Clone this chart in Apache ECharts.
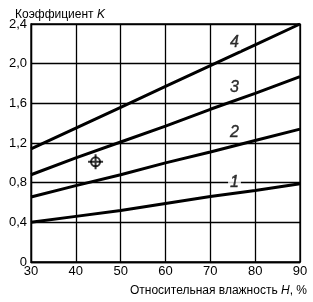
<!DOCTYPE html>
<html><head><meta charset="utf-8">
<script src="https://cdn.jsdelivr.net/npm/echarts@6/dist/echarts.min.js"></script>
<style>html,body{margin:0;padding:0;background:#fff}#c{width:313px;height:302px}</style>
</head><body><div id="c"></div>
<script>
var humidity = [30, 40, 50, 60, 70, 80, 90];
var curve1 = [0.40, 0.46, 0.52, 0.59, 0.66, 0.72, 0.79];
var curve2 = [0.655, 0.77, 0.88, 1.00, 1.11, 1.225, 1.34];
var curve3 = [0.88, 1.05, 1.21, 1.37, 1.54, 1.70, 1.87];
var curve4 = [1.14, 1.35, 1.56, 1.77, 1.98, 2.19, 2.40];
var curveNames = ['1', '2', '3', '4'];
var curveLabelX = [75.5, 75.5, 75.5, 75.5];
var curveLabelY = [0.80, 1.30, 1.75, 2.21];
var pointH = [44.4];
var pointK = [1.01];
var xTicks = [30, 40, 50, 60, 70, 80, 90];
var yTicks = [0, 0.4, 0.8, 1.2, 1.6, 2.0, 2.4];

var font = '"Liberation Sans", Arial, sans-serif';
function pairs(ys){ return humidity.map(function(h,i){return [h, ys[i]];}); }
var curves = [curve1, curve2, curve3, curve4];
var series = curves.map(function(c){
  return {type:'line', data:pairs(c), showSymbol:false, smooth:false,
    lineStyle:{color:'#000', width:3}, z:3, silent:true};
});
series.push({type:'scatter', z:5,
  data: curveNames.map(function(n,i){return {value:[curveLabelX[i], curveLabelY[i]], name:n};}),
  symbolSize:1, itemStyle:{color:'rgba(0,0,0,0)'},
  label:{show:true, position:[0,0], align:'center', verticalAlign:'middle',
    formatter:function(p){return p.name;},
    fontFamily:font, fontStyle:'italic', fontSize:16, color:'#000',
    textBorderWidth:0.4, textBorderColor:'#000',
    backgroundColor:'#fff', padding:[0,2,0,2]}
});
series.push({type:'scatter', z:6, data: pointH.map(function(h,i){return [h, pointK[i]];}),
  symbol:'circle', symbolSize:9,
  itemStyle:{color:'rgba(0,0,0,0)', borderColor:'#000', borderWidth:2}});
series.push({type:'scatter', z:6, data: pointH.map(function(h,i){return [h, pointK[i]];}),
  symbol:'path://M5,0L5,10M0,5L10,5', symbolSize:15,
  itemStyle:{color:'rgba(0,0,0,0)', borderColor:'#000', borderWidth:2}});

var chart = echarts.init(document.getElementById('c'));
chart.setOption({
  animation:false,
  backgroundColor:'#fff',
  grid:{left:31, right:13, top:24, bottom:40, show:true, borderColor:'#000', borderWidth:1.3},
  title:{text:'Коэффициент {i|K}', left:10, top:4,
    textStyle:{fontFamily:font, fontSize:12, fontWeight:'normal', color:'#000',
      rich:{i:{fontFamily:font, fontSize:12, fontStyle:'italic', color:'#000'}}}},
  xAxis:{type:'value', min:xTicks[0], max:xTicks[xTicks.length-1], interval:10,
    axisLine:{show:true, lineStyle:{color:'#000', width:1.3}},
    axisTick:{show:false},
    axisLabel:{fontFamily:font, fontSize:13, color:'#000', margin:3},
    splitLine:{show:true, lineStyle:{color:'#000', width:1.3}},
    name:'Относительная влажность {i|H}, %', nameLocation:'end',
    nameGap:7,
    nameTextStyle:{fontFamily:font, fontSize:12, color:'#000', align:'right', verticalAlign:'top',
      padding:[23,0,0,0], rich:{i:{fontFamily:font, fontSize:12, fontStyle:'italic', color:'#000'}}}
  },
  yAxis:{type:'value', min:yTicks[0], max:yTicks[yTicks.length-1], interval:0.4,
    axisLine:{show:true, lineStyle:{color:'#000', width:1.3}},
    axisTick:{show:false},
    axisLabel:{fontFamily:font, fontSize:13, color:'#000', margin:4,
      formatter:function(v){ return v===0 ? '0' : v.toFixed(1).replace('.', ','); }},
    splitLine:{show:true, lineStyle:{color:'#000', width:1.3}}
  },
  series:series
});
</script></body></html>
